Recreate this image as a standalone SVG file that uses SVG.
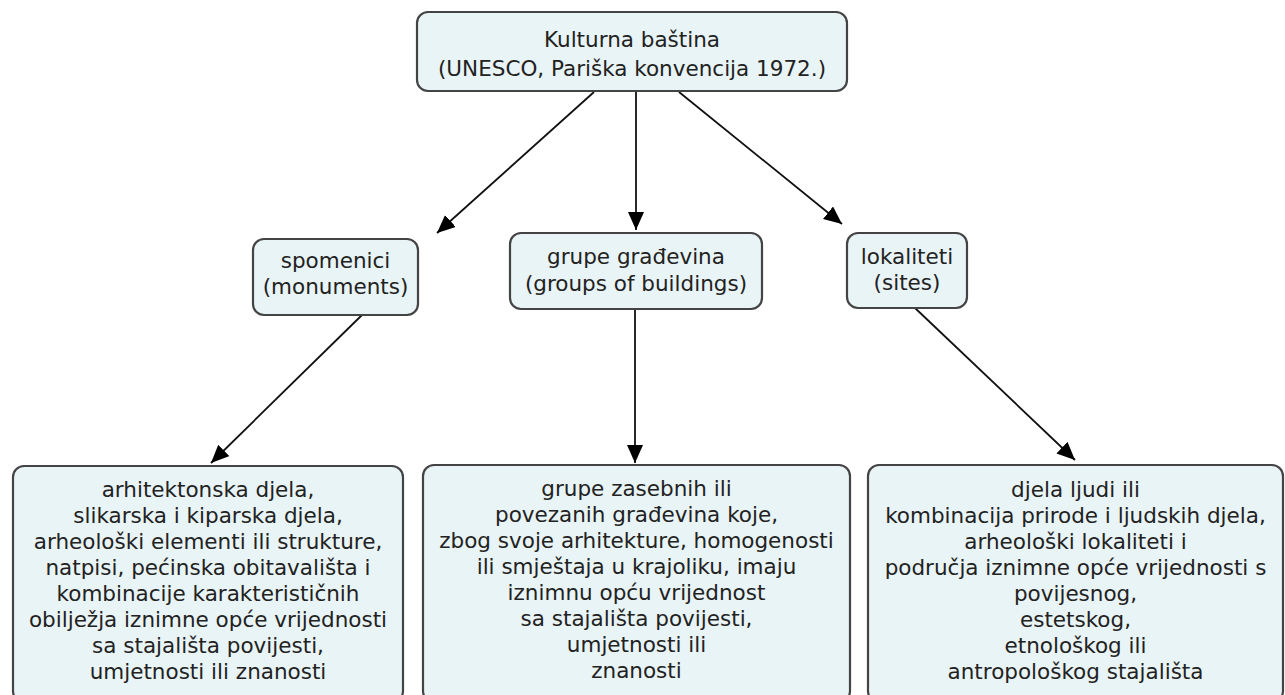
<svg xmlns="http://www.w3.org/2000/svg" width="1285" height="695" viewBox="0 0 1285 695">
<style>
.box{fill:#e9f4f6;stroke:#444;stroke-width:2.2}
.t{font-family:"DejaVu Sans",Verdana,sans-serif;font-size:21.5px;fill:#222;text-anchor:middle}
.c{stroke:#111;stroke-width:1.8;fill:none;marker-end:url(#ah)}
</style>
<defs>
<marker id="ah" markerUnits="userSpaceOnUse" markerWidth="22" markerHeight="22" refX="18" refY="8" orient="auto">
<path d="M0,0 L18,8 L0,16 Z" fill="#000"/>
</marker>
</defs>
<rect width="1285" height="695" fill="#fff"/>
<g id="connectors">
<line class="c" x1="594" y1="92" x2="437" y2="233"/>
<line class="c" x1="636" y1="92" x2="636" y2="230"/>
<line class="c" x1="679" y1="92" x2="842" y2="224"/>
<line class="c" x1="362" y1="315" x2="211" y2="463"/>
<line class="c" x1="635" y1="309" x2="635" y2="463"/>
<line class="c" x1="915" y1="308" x2="1075" y2="460"/>
</g>
<g id="root">
<rect class="box" x="417" y="12" width="430" height="79" rx="11"/>
<text class="t" x="632" y="47">Kulturna baština</text>
<text class="t" x="632" y="76">(UNESCO, Pariška konvencija 1972.)</text>
</g>
<g id="spomenici">
<rect class="box" x="253" y="239" width="165" height="76" rx="11"/>
<text class="t" x="335.5" y="268">spomenici</text>
<text class="t" x="335.5" y="294">(monuments)</text>
</g>
<g id="grupe">
<rect class="box" x="510" y="233" width="252" height="76" rx="11"/>
<text class="t" x="636" y="264">grupe građevina</text>
<text class="t" x="636" y="291">(groups of buildings)</text>
</g>
<g id="lokaliteti">
<rect class="box" x="847" y="233" width="120" height="75" rx="11"/>
<text class="t" x="907" y="264">lokaliteti</text>
<text class="t" x="907" y="290">(sites)</text>
</g>
<g id="spomenici-opis">
<rect class="box" x="13" y="466" width="390" height="236" rx="11"/>
<text class="t" x="208" y="497">arhitektonska djela,</text>
<text class="t" x="208" y="523">slikarska i kiparska djela,</text>
<text class="t" x="208" y="549">arheološki elementi ili strukture,</text>
<text class="t" x="208" y="575">natpisi, pećinska obitavališta i</text>
<text class="t" x="208" y="601">kombinacije karakterističnih</text>
<text class="t" x="208" y="627">obilježja iznimne opće vrijednosti</text>
<text class="t" x="208" y="653">sa stajališta povijesti,</text>
<text class="t" x="208" y="679">umjetnosti ili znanosti</text>
</g>
<g id="grupe-opis">
<rect class="box" x="423" y="465" width="427" height="237" rx="11"/>
<text class="t" x="636.5" y="496">grupe zasebnih ili</text>
<text class="t" x="636.5" y="522">povezanih građevina koje,</text>
<text class="t" x="636.5" y="548">zbog svoje arhitekture, homogenosti</text>
<text class="t" x="636.5" y="574">ili smještaja u krajoliku, imaju</text>
<text class="t" x="636.5" y="600">iznimnu opću vrijednost</text>
<text class="t" x="636.5" y="626">sa stajališta povijesti,</text>
<text class="t" x="636.5" y="652">umjetnosti ili</text>
<text class="t" x="636.5" y="678">znanosti</text>
</g>
<g id="lokaliteti-opis">
<rect class="box" x="868" y="465" width="415" height="237" rx="11"/>
<text class="t" x="1075.5" y="497">djela ljudi ili</text>
<text class="t" x="1075.5" y="523">kombinacija prirode i ljudskih djela,</text>
<text class="t" x="1075.5" y="549">arheološki lokaliteti i</text>
<text class="t" x="1075.5" y="575">područja iznimne opće vrijednosti s</text>
<text class="t" x="1075.5" y="601">povijesnog,</text>
<text class="t" x="1075.5" y="627">estetskog,</text>
<text class="t" x="1075.5" y="653">etnološkog ili</text>
<text class="t" x="1075.5" y="679">antropološkog stajališta</text>
</g>
</svg>
